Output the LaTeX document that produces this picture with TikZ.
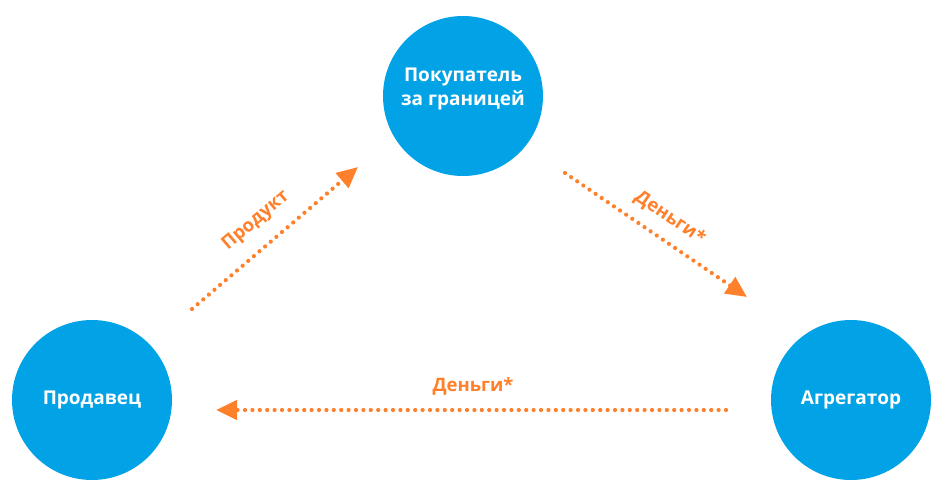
\documentclass[tikz,border=0pt]{standalone}
\usepackage{fontspec}
\setmainfont{Open Sans}
\usetikzlibrary{arrows.meta}
\definecolor{cblue}{RGB}{2,163,230}
\definecolor{corange}{RGB}{255,128,42}
\tikzset{
  party/.style={circle, fill=cblue, draw=none, minimum size=160pt, inner sep=0pt},
  partytext/.style={text=white, font=\fontsize{19}{24}\selectfont\bfseries, align=center},
  flow/.style={corange, line width=4.2pt, line cap=round, dash pattern=on 0pt off 7.4pt,
    -{Triangle[length=21pt,width=19pt]}},
  flowlabel/.style={text=corange, font=\fontsize{18.5}{21}\selectfont\bfseries, inner sep=0pt}
}
\begin{document}
\begin{tikzpicture}[x=1pt,y=-1pt]
\useasboundingbox (0,0) rectangle (940,490);
\node[party] (buyer) at (463,96) {};
\node[partytext] (buyertxt) at (463,89) {Покупатель\\за границей};
\node[party] (seller) at (92,400) {};
\node[partytext] (sellertxt) at (92,400) {Продавец};
\node[party] (agg) at (851,400) {};
\node[partytext] (aggtxt) at (851,400) {Агрегатор};

\coordinate (p1) at (192,309);
\coordinate (p2) at (358,167);
\coordinate (d1) at (565,173);
\coordinate (d2) at (747,297);
\coordinate (b1) at (726,410);
\coordinate (b2) at (216,410);

\draw[flow] (p1) -- (p2);
\draw[flow] (d1) -- (d2);
\draw[flow] (b1) -- (b2);

\node[flowlabel, rotate=40.5] (lprod) at (256,221) {Продукт};
\node[flowlabel, rotate=-34.3] (lmoney1) at (670,218) {Деньги*};
\node[flowlabel] (lmoney2) at (473,386) {Деньги*};
\end{tikzpicture}
\end{document}
